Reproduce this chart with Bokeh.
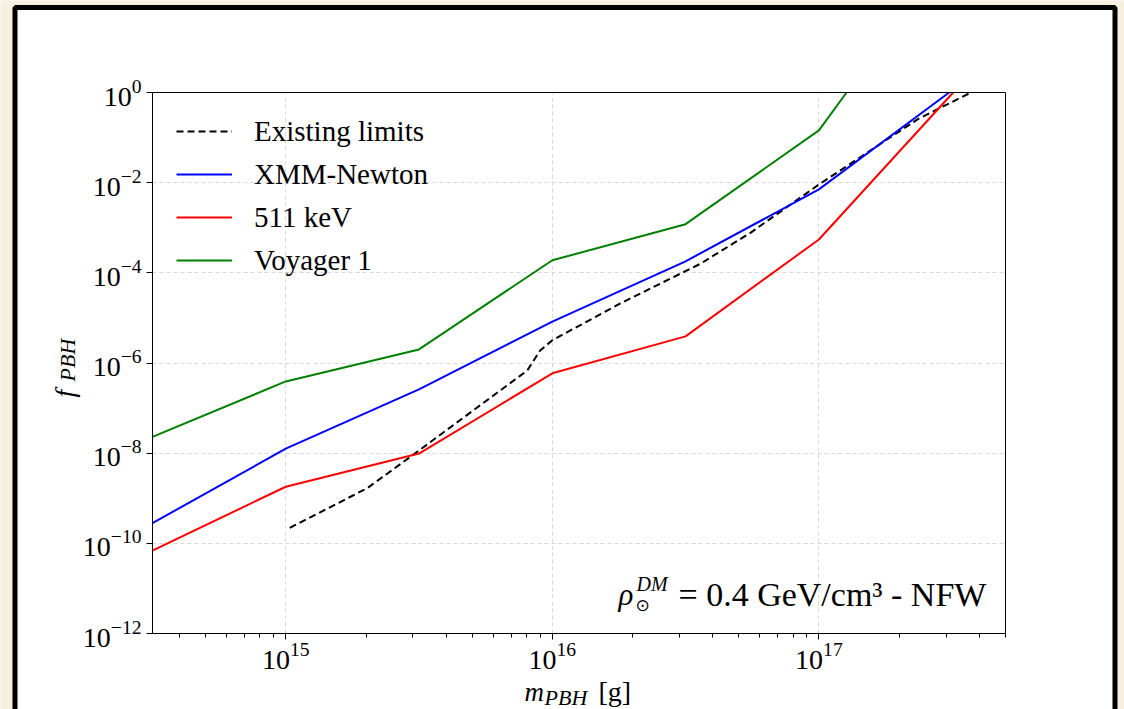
import math
from bokeh.plotting import figure
from bokeh.models import FixedTicker, Label, BoxAnnotation
from bokeh.embed import file_html
from bokeh.resources import INLINE

# ---------------- data ----------------
mass_grid = [3.16e14, 1e15, 3.16e15, 1e16, 3.16e16, 1e17]
f_xmm = [2.8e-10, 1.26e-8, 2.6e-7, 8.3e-6, 1.8e-4, 7.1e-3]
f_511 = [6.9e-11, 1.8e-9, 9.8e-9, 5.9e-7, 3.9e-6, 5.5e-4]
f_voyager = [2.3e-8, 3.9e-7, 2.0e-6, 1.9e-4, 1.2e-3, 0.145]
# where each curve leaves the top of the plot (f = 1)
mass_exit_xmm = 3.08e17
mass_exit_511 = 3.19e17
mass_exit_voyager = 1.27e17

mass_existing = [1.035e15, 2.03e15, 3.13e15, 8.05e15, 9.0e15, 1e16, 1.8e16,
                 3.6e16, 5.55e16, 1e17, 2.36e17, 3.72e17]
f_existing = [2.2e-10, 1.7e-9, 1.1e-8, 6.8e-7, 1.9e-6, 3.2e-6, 2.1e-5,
              1.6e-4, 7.8e-4, 9.1e-3, 0.26, 1.0]

x_limits = (10 ** 14.5, 10 ** 17.7)
y_limits = (1e-12, 1.0)
x_major = [1e15, 1e16, 1e17]
x_minor = [k * 10.0 ** e for e in (14, 15, 16, 17) for k in range(2, 10)]
x_minor = [v for v in x_minor if x_limits[0] <= v <= x_limits[1]]
y_major = [1e-12, 1e-10, 1e-8, 1e-6, 1e-4, 1e-2, 1.0]

series_labels = ["Existing limits", "XMM-Newton", "511 keV", "Voyager 1"]

# ---------------- layout ----------------
W, H = 1124, 709
BOX_L, BOX_R, BOX_T, BOX_B = 152, 1005, 92, 633
SERIF = "Liberation Serif"
CREAM = "#f7efe0"

lx0, lx1 = math.log10(x_limits[0]), math.log10(x_limits[1])
ly0, ly1 = math.log10(y_limits[0]), math.log10(y_limits[1])
ppd_x = (BOX_R - BOX_L) / (lx1 - lx0)
ppd_y = (BOX_B - BOX_T) / (ly1 - ly0)
x_full = (10 ** (lx0 - BOX_L / ppd_x), 10 ** (lx1 + (W - BOX_R) / ppd_x))
y_full = (10 ** (ly0 - (H - BOX_B) / ppd_y), 10 ** (ly1 + BOX_T / ppd_y))

p = figure(width=W, height=H, x_axis_type="log", y_axis_type="log",
           x_range=x_full, y_range=y_full,
           output_backend="svg", toolbar_location=None,
           min_border=0, min_border_left=0, min_border_right=0,
           min_border_top=0, min_border_bottom=0,
           border_fill_color=CREAM, background_fill_color=CREAM)
p.outline_line_color = None

# white panel with thick black frame
panel = BoxAnnotation(left=14.5, right=1114.5, top=7, bottom=780,
                      left_units="canvas", right_units="canvas",
                      top_units="canvas", bottom_units="canvas",
                      fill_color="white", fill_alpha=1.0,
                      line_color="black", line_alpha=1.0, line_width=5,
                      level="image")
p.add_layout(panel)

p.line(mass_existing, f_existing, line_color="black", line_width=2,
       line_dash="7 4", legend_label=series_labels[0])
p.line(mass_grid + [mass_exit_xmm], f_xmm + [y_limits[1]], line_color="#0000ff",
       line_width=2, legend_label=series_labels[1])
p.line(mass_grid + [mass_exit_511], f_511 + [y_limits[1]], line_color="#ff0000",
       line_width=2, legend_label=series_labels[2])
p.line(mass_grid + [mass_exit_voyager], f_voyager + [y_limits[1]],
       line_color="#008000", line_width=2, legend_label=series_labels[3])

# axes placed on the edges of the data box
p.xaxis.fixed_location = y_limits[0]
p.yaxis.fixed_location = x_limits[0]
p.xaxis.bounds = x_limits
p.yaxis.bounds = y_limits
p.xaxis.ticker = FixedTicker(ticks=x_major, minor_ticks=x_minor)
p.yaxis.ticker = FixedTicker(ticks=y_major)
p.xgrid.ticker = FixedTicker(ticks=x_major)
p.ygrid.ticker = FixedTicker(ticks=y_major)
p.xgrid.bounds = x_limits
p.ygrid.bounds = y_limits
p.xgrid.cross_bounds = y_limits
p.ygrid.cross_bounds = x_limits
for g in (p.xgrid, p.ygrid):
    g.grid_line_color = "#d8d8d8"
    g.grid_line_dash = "4 3"
    g.grid_line_width = 1

for ax in (p.xaxis, p.yaxis):
    ax.major_label_text_font = SERIF
    ax.major_label_text_font_size = "28px"
    ax.major_label_text_color = "black"
    ax.axis_line_color = "black"
    ax.major_tick_line_color = "black"
    ax.major_tick_out = 6
    ax.major_tick_in = 0
    ax.minor_tick_out = 4
    ax.minor_tick_in = 0
    ax.axis_label = None
p.xaxis.major_label_standoff = 3
p.yaxis.major_label_standoff = 5
p.yaxis.minor_tick_line_color = None
p.xaxis.minor_tick_line_color = "black"

# frame of the data box
p.add_layout(BoxAnnotation(left=x_limits[0], right=x_limits[1],
                           bottom=y_limits[0], top=y_limits[1],
                           fill_alpha=0, line_color="black", line_alpha=1.0,
                           line_width=1))

# legend
lg = p.legend[0]
lg_pad, lg_row, lg_gap = 22, 34, 9
lg_height = 2 * lg_pad + 4 * lg_row + 3 * lg_gap
lg.location = (BOX_L + 2, H - BOX_T - lg_height)
lg.label_text_font = SERIF
lg.label_text_font_size = "29px"
lg.label_text_color = "black"
lg.glyph_width = 56
lg.glyph_height = lg_row
lg.label_height = lg_row
lg.spacing = lg_gap
lg.padding = lg_pad
lg.margin = 0
lg.label_standoff = 22
lg.border_line_alpha = 0
lg.background_fill_alpha = 0


def add_label(text, x, y, size, style="normal", angle=0.0, font=SERIF):
    p.add_layout(Label(x=x, y=y, x_units="canvas", y_units="canvas",
                       text=text, text_font=font, text_font_size=size,
                       text_font_style=style, text_color="black",
                       text_baseline="alphabetic", text_align="left",
                       angle=angle))


# x axis label  m_PBH [g]
add_label("m", 524, 691, "27px", "italic")
add_label("PBH", 544, 697, "22px", "italic")
add_label("[g]", 598, 691, "28px")

# y axis label  f_PBH (rotated)
add_label("f", 64, 397, "28px", "italic", angle=math.pi / 2)
add_label("PBH", 67, 381, "22px", "italic", angle=math.pi / 2)

# annotation inside the plot
add_label("\u03c1", 618, 594, "31px", "italic")
add_label("DM", 636, 583, "20px", "italic")
add_label("\u2299", 635, 604, "17px", font="DejaVu Sans")
add_label("= 0.4 GeV/cm\u00b3 - NFW", 678, 594, "34px")

open("out.html", "w").write(file_html(p, INLINE))
